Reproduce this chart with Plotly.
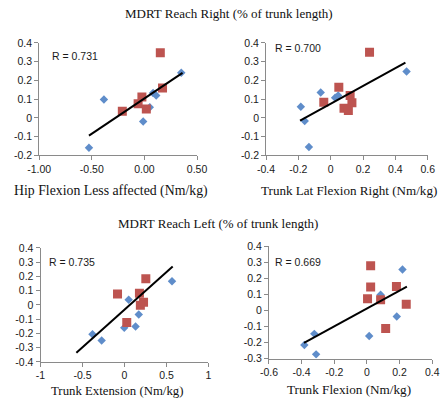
import plotly.graph_objects as go

W, H = 448, 405

# ---------------- data ----------------
# Panel 1: MDRT Reach Right vs Hip Flexion Less affected
p1_blue_x = [-0.527, -0.385, -0.012, 0.051, 0.082, 0.112, 0.350]
p1_blue_y = [-0.159, 0.098, -0.019, 0.057, 0.133, 0.119, 0.241]
p1_red_x = [0.151, 0.172, -0.210, -0.060, -0.024, 0.018]
p1_red_y = [0.348, 0.159, 0.035, 0.076, 0.112, 0.047]

# Panel 2: MDRT Reach Right vs Trunk Lat Flexion Right
p2_blue_x = [-0.185, -0.161, -0.135, -0.062, 0.027, 0.046, 0.469]
p2_blue_y = [0.060, -0.017, -0.155, 0.136, 0.107, 0.119, 0.247]
p2_red_x = [0.240, 0.050, -0.043, 0.120, 0.131, 0.082, 0.109]
p2_red_y = [0.350, 0.164, 0.083, 0.119, 0.081, 0.052, 0.040]

# Panel 3: MDRT Reach Left vs Trunk Extension
p3_blue_x = [-0.381, -0.272, -0.003, 0.050, 0.132, 0.170, 0.566]
p3_blue_y = [-0.207, -0.250, -0.161, 0.036, -0.152, -0.068, 0.166]
p3_red_x = [-0.083, 0.254, 0.178, 0.227, 0.189, 0.027]
p3_red_y = [0.077, 0.184, 0.082, 0.018, -0.002, -0.123]

# Panel 4: MDRT Reach Left vs Trunk Flexion
p4_blue_x = [-0.383, -0.322, -0.311, 0.014, 0.084, 0.183, 0.218]
p4_blue_y = [-0.215, -0.146, -0.274, -0.159, 0.098, -0.038, 0.255]
p4_red_x = [0.023, 0.023, 0.004, 0.084, 0.181, 0.241, 0.115]
p4_red_y = [0.279, 0.146, 0.073, 0.067, 0.150, 0.039, -0.112]

# trend lines (slope, intercept, x extent)
trend_slope = [0.377, 0.475, 0.528, 0.556]
trend_intercept = [0.104, 0.0757, -0.033, 0.012]
trend_x_from = [-0.527, -0.190, -0.573, -0.385]
trend_x_to = [0.362, 0.462, 0.574, 0.245]

r_labels = ["R = 0.731", "R = 0.700", "R = 0.735", "R = 0.669"]
x_titles = ["Hip Flexion Less affected (Nm/kg)", "Trunk Lat Flexion Right (Nm/kg)",
            "Trunk Extension (Nm/kg)", "Trunk Flexion (Nm/kg)"]
row_titles = ["MDRT Reach Right (% of trunk length)", "MDRT Reach Left (% of trunk length)"]

p1_xticks = [-1.0, -0.5, 0.0, 0.5]
p1_xtext = ["-1.00", "-0.50", "0.00", "0.50"]
p2_xticks = [-0.4, -0.2, 0.0, 0.2, 0.4, 0.6]
p2_xtext = ["-0.4", "-0.2", "0", "0.2", "0.4", "0.6"]
p3_xticks = [-1.0, -0.5, 0.0, 0.5, 1.0]
p3_xtext = ["-1", "-0.5", "0", "0.5", "1"]
p4_xticks = [-0.6, -0.4, -0.2, 0.0, 0.2, 0.4]
p4_xtext = ["-0.6", "-0.4", "-0.2", "0", "0.2", "0.4"]
top_yticks = [0.4, 0.3, 0.2, 0.1, 0.0, -0.1, -0.2]
top_ytext = ["0.4", "0.3", "0.2", "0.1", "0", "-0.1", "-0.2"]
p3_yticks = [0.4, 0.3, 0.2, 0.1, 0.0, -0.1, -0.2, -0.3, -0.4]
p3_ytext = ["0.4", "0.3", "0.2", "0.1", "0", "-0.1", "-0.2", "-0.3", "-0.4"]
p4_yticks = [0.4, 0.3, 0.2, 0.1, 0.0, -0.1, -0.2, -0.3]
p4_ytext = ["0.4", "0.3", "0.2", "0.1", "0", "-0.1", "-0.2", "-0.3"]

# ---------------- styling / layout ----------------
BLUE = "#5f8dca"
RED = "#bd5450"
AXC = "#8a8a8a"
SANS = "Liberation Sans, Arial, sans-serif"
TICKFONT = dict(family=SANS, size=10.5, color="#1a1a1a")
SERIF = "Liberation Serif, Times New Roman, serif"

# panel domains in pixels: (x0, x1, ytop, ybottom)
px_dom = [(28.6, 194.6, 38, 154), (267.2, 437.2, 38, 154),
          (30.0, 206.6, 249.3, 366.7), (270.2, 441.9, 247.7, 363.3)]
xranges = [[-1, 0.5], [-0.4, 0.6], [-1, 1], [-0.6, 0.4]]
yranges = [[-0.2, 0.4], [-0.2, 0.4], [-0.4, 0.4], [-0.3, 0.4]]
xticks = [(p1_xticks, p1_xtext), (p2_xticks, p2_xtext), (p3_xticks, p3_xtext), (p4_xticks, p4_xtext)]
yticks = [(top_yticks, top_ytext), (top_yticks, top_ytext), (p3_yticks, p3_ytext), (p4_yticks, p4_ytext)]
blues = [(p1_blue_x, p1_blue_y), (p2_blue_x, p2_blue_y), (p3_blue_x, p3_blue_y), (p4_blue_x, p4_blue_y)]
reds = [(p1_red_x, p1_red_y), (p2_red_x, p2_red_y), (p3_red_x, p3_red_y), (p4_red_x, p4_red_y)]

fig = go.Figure()
layout = dict(width=W, height=H, margin=dict(l=0, r=0, t=0, b=0),
              paper_bgcolor="white", plot_bgcolor="white", showlegend=False)

for i in range(4):
    n = "" if i == 0 else str(i + 1)
    xa, ya = "x" + n, "y" + n
    x0, x1, yt, yb = px_dom[i]
    layout["xaxis" + n] = dict(
        domain=[x0 / W, x1 / W], range=xranges[i], anchor=ya,
        tickvals=xticks[i][0], ticktext=xticks[i][1], tickfont=TICKFONT,
        showline=True, linecolor=AXC, linewidth=1, ticks="outside", ticklen=4,
        tickcolor=AXC, showgrid=False, zeroline=False, fixedrange=True)
    layout["yaxis" + n] = dict(
        domain=[1 - yb / H, 1 - yt / H], range=yranges[i], anchor=xa,
        tickvals=yticks[i][0], ticktext=yticks[i][1], tickfont=TICKFONT,
        showline=True, linecolor=AXC, linewidth=1, ticks="outside", ticklen=4,
        tickcolor=AXC, showgrid=False, zeroline=False, fixedrange=True)

    bx, by = blues[i]
    rx, ry = reds[i]
    fig.add_trace(go.Scatter(x=bx, y=by, mode="markers", xaxis=xa, yaxis=ya,
                             marker=dict(symbol="diamond", size=6.5, color=BLUE, line=dict(width=0))))
    fig.add_trace(go.Scatter(x=rx, y=ry, mode="markers", xaxis=xa, yaxis=ya,
                             marker=dict(symbol="square", size=9, color=RED, line=dict(width=0))))
    tx = [trend_x_from[i], trend_x_to[i]]
    ty = [trend_slope[i] * v + trend_intercept[i] for v in tx]
    fig.add_trace(go.Scatter(x=tx, y=ty, mode="lines", xaxis=xa, yaxis=ya,
                             line=dict(color="black", width=2)))

fig.update_layout(**layout)

ann = []
# R labels
r_pos = [(39.5, 51.3), (274.0, 43.5), (36.7, 264.0), (274.7, 263.5)]
for i in range(4):
    ann.append(dict(text=r_labels[i], x=r_pos[i][0] / W, y=1 - r_pos[i][1] / H,
                    xref="paper", yref="paper", xanchor="left", yanchor="middle",
                    showarrow=False, font=dict(family=SANS, size=10.5, color="#1a1a1a")))
# x-axis titles
xt_pos = [(104.5, 190.5), (354.0, 190.5), (110.0, 396.5), (354.5, 395.5)]
xt_size = [13.8, 13.1, 12.8, 13.2]
for i in range(4):
    ann.append(dict(text=x_titles[i], x=xt_pos[i][0] / W, y=1 - xt_pos[i][1] / H,
                    xref="paper", yref="paper", xanchor="center", yanchor="middle",
                    showarrow=False, font=dict(family=SERIF, size=xt_size[i], color="#111")))
# row titles
rt_pos = [(228.5, 8.0), (217.0, 224.0)]
for i in range(2):
    ann.append(dict(text=row_titles[i], x=rt_pos[i][0] / W, y=1 - rt_pos[i][1] / H,
                    xref="paper", yref="paper", xanchor="center", yanchor="middle",
                    showarrow=False, font=dict(family=SERIF, size=13, color="#111")))
fig.update_layout(annotations=ann)

fig.write_html("out.html", config={"displayModeBar": False},
               post_script="document.body.style.margin='0';document.body.style.padding='0';")
